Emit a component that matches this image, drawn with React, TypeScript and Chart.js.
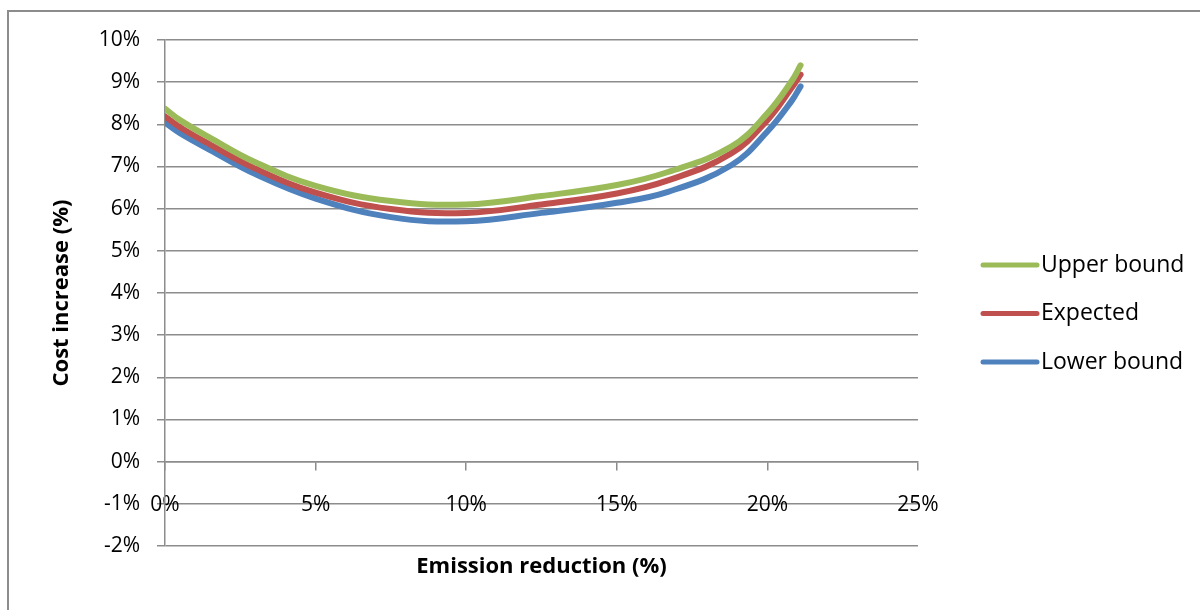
import React, { useEffect, useRef } from "react";
import { Chart, registerables } from "chart.js";

Chart.register(...registerables);

// ---- data ----
const emissionReduction = [0, 0.5, 1.5, 3, 5, 7.5, 10, 12.5, 15, 16.7, 18.8, 20, 20.8, 21.1];
const upperBound = [8.37, 8.1, 7.68, 7.1, 6.54, 6.18, 6.1, 6.3, 6.56, 6.87, 7.47, 8.26, 9.02, 9.4];
const expected = [8.19, 7.93, 7.52, 6.95, 6.38, 5.99, 5.9, 6.1, 6.36, 6.67, 7.31, 8.1, 8.86, 9.18];
const lowerBound = [8.04, 7.79, 7.39, 6.82, 6.24, 5.8, 5.7, 5.9, 6.14, 6.4, 7.03, 7.83, 8.55, 8.9];
const seriesNames = ["Upper bound", "Expected", "Lower bound"];
const seriesColors = ["#9BBB59", "#C0504D", "#4F81BD"];
const xTickValues = [0, 5, 10, 15, 20, 25];
const yTickValues = [-2, -1, 0, 1, 2, 3, 4, 5, 6, 7, 8, 9, 10];
const xTitle = "Emission reduction (%)";
const yTitle = "Cost increase (%)";

const FONT = "'Open Sans', 'DejaVu Sans', sans-serif";
const GRID = "#8c8c8c";

const legendPlugin = {
  id: "sideLegend",
  afterDraw(chart: any) {
    const ctx = chart.ctx;
    const x0 = 983;
    const x1 = 1037;
    const startY = 265;
    const gap = 48.5;
    ctx.save();
    chart.data.datasets.forEach((ds: any, i: number) => {
      const y = startY + i * gap;
      ctx.strokeStyle = ds.borderColor;
      ctx.lineWidth = 5;
      ctx.lineCap = "round";
      ctx.beginPath();
      ctx.moveTo(x0, y);
      ctx.lineTo(x1, y);
      ctx.stroke();
      ctx.fillStyle = "#000";
      ctx.font = `23px ${FONT}`;
      ctx.textBaseline = "middle";
      ctx.textAlign = "left";
      ctx.fillText(ds.label, 1041, y);
    });
    ctx.restore();
  },
};

export default function App() {
  const ref = useRef<HTMLCanvasElement | null>(null);

  useEffect(() => {
    if (!ref.current) return;
    const seriesValues = [upperBound, expected, lowerBound];
    const chart = new Chart(ref.current, {
      type: "line",
      data: {
        datasets: seriesValues.map((vals, i) => ({
          label: seriesNames[i],
          data: emissionReduction.map((x, j) => ({ x, y: vals[j] })),
          borderColor: seriesColors[i],
          backgroundColor: seriesColors[i],
          borderWidth: 6,
          borderCapStyle: "round",
          borderJoinStyle: "round",
          pointRadius: 0,
          tension: 0.4,
          fill: false,
        })),
      },
      options: {
        responsive: false,
        animation: false,
        layout: { padding: { left: 0, top: 40, right: 282, bottom: 0 } },
        plugins: { legend: { display: false }, tooltip: { enabled: false } },
        scales: {
          x: {
            type: "linear",
            min: 0,
            max: 25,
            position: { y: 0 },
            afterBuildTicks: (s: any) => {
              s.ticks = xTickValues.map((v) => ({ value: v }));
            },
            ticks: {
              callback: (v: any) => v + "%",
              color: "#000",
              font: { family: FONT, size: 21 },
              padding: 23,
              maxRotation: 0,
            },
            grid: {
              drawOnChartArea: false,
              drawTicks: true,
              tickLength: 8,
              color: GRID,
              lineWidth: 1.5,
            },
            border: { display: true, color: GRID, width: 1.5 },
          },
          xt: {
            type: "linear",
            position: "bottom",
            min: 0,
            max: 1,
            ticks: { display: false },
            grid: { display: false, drawTicks: false },
            border: { display: false },
            title: {
              display: true,
              text: xTitle,
              color: "#000",
              font: { family: FONT, size: 22, weight: "bold" },
              padding: { top: 0, bottom: 30 },
            },
            afterFit: (s: any) => {
              s.height = 64;
            },
          },
          y: {
            type: "linear",
            min: -2,
            max: 10,
            position: "left",
            afterBuildTicks: (s: any) => {
              s.ticks = yTickValues.map((v) => ({ value: v }));
            },
            ticks: {
              callback: (v: any) => v + "%",
              color: "#000",
              font: { family: FONT, size: 21 },
              padding: 17,
            },
            grid: {
              color: GRID,
              lineWidth: 1.5,
              tickLength: 8,
              drawTicks: true,
            },
            border: { display: true, color: GRID, width: 1.5 },
            title: {
              display: true,
              text: yTitle,
              color: "#000",
              font: { family: FONT, size: 22, weight: "bold" },
              padding: { top: 49, bottom: 0 },
            },
            afterFit: (s: any) => {
              s.width = 165;
            },
          },
        },
      },
      plugins: [legendPlugin],
    } as any);
    return () => chart.destroy();
  }, []);

  return (
    <div style={{ position: "fixed", left: 0, top: 0, width: 1200, height: 610, background: "#fff" }}>
      <div
        style={{
          position: "absolute",
          left: 7,
          top: 10,
          width: 1300,
          height: 700,
          borderLeft: `2px solid ${GRID}`,
          borderTop: `2px solid ${GRID}`,
        }}
      />
      <canvas ref={ref} width={1200} height={610} style={{ position: "absolute", left: 0, top: 0 }} />
    </div>
  );
}
